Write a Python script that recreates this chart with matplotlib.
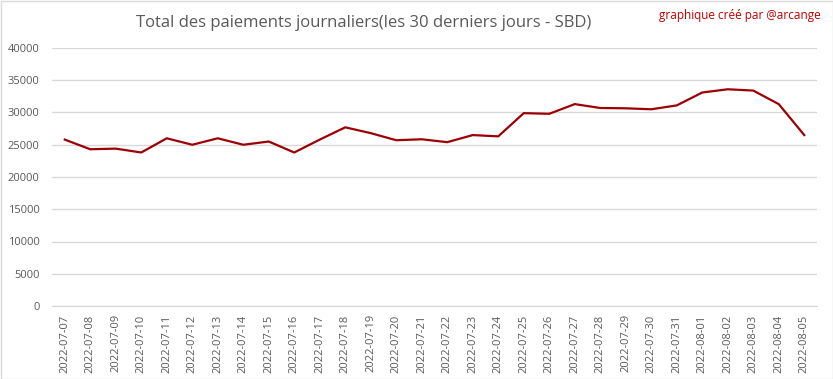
import matplotlib
matplotlib.use("Agg")
import matplotlib.pyplot as plt
from matplotlib.patches import Rectangle

dates = ["2022-07-07", "2022-07-08", "2022-07-09", "2022-07-10", "2022-07-11",
         "2022-07-12", "2022-07-13", "2022-07-14", "2022-07-15", "2022-07-16",
         "2022-07-17", "2022-07-18", "2022-07-19", "2022-07-20", "2022-07-21",
         "2022-07-22", "2022-07-23", "2022-07-24", "2022-07-25", "2022-07-26",
         "2022-07-27", "2022-07-28", "2022-07-29", "2022-07-30", "2022-07-31",
         "2022-08-01", "2022-08-02", "2022-08-03", "2022-08-04", "2022-08-05"]
payments = [25800, 24300, 24400, 23800, 26000, 25000, 26000, 25000, 25500, 23800,
            25800, 27700, 26800, 25700, 25850, 25400, 26500, 26300, 29900, 29800,
            31300, 30700, 30650, 30500, 31100, 33100, 33600, 33400, 31300, 26500]
yticks = [0, 5000, 10000, 15000, 20000, 25000, 30000, 35000, 40000]

title = "Total des paiements journaliers(les 30 derniers jours - SBD)"
credit = "graphique créé par @arcange"

plt.rcParams['font.family'] = ['Open Sans', 'DejaVu Sans']

W, H = 833, 379
fig = plt.figure(figsize=(W / 100, H / 100), dpi=100)
ax = fig.add_axes([52 / W, 1 - 306 / H, (817 - 52) / W, (306 - 48) / H])

x = list(range(len(dates)))
ax.plot(x, payments, color="#9C0006", linewidth=1.6, solid_joinstyle="round")

ax.set_ylim(0, 40000)
ax.set_xlim(-0.5, len(dates) - 0.5)
ax.set_yticks(yticks)
ax.set_yticklabels([str(v) for v in yticks])
ax.set_xticks(x)
ax.set_xticklabels(dates, rotation=90)
ax.grid(axis="y", color="#D9D9D9", linewidth=1)
ax.set_axisbelow(True)
for s in ["top", "right", "left"]:
    ax.spines[s].set_visible(False)
ax.spines["bottom"].set_color("#D9D9D9")
ax.tick_params(axis="y", length=0, labelsize=8, colors="#595959", pad=9)
ax.tick_params(axis="x", length=0, labelsize=8, colors="#595959", pad=6)

fig.text(0.436, 1 - 23 / H, title, ha="center", va="center", fontsize=12, color="#595959")
fig.text(1 - 12 / W, 1 - 15 / H, credit, ha="right", va="center", fontsize=8.5, color="#C00000")

fig.patches.append(Rectangle((0.5 / W, 0.5 / H), 1 - 1 / W, 1 - 1 / H, transform=fig.transFigure,
                             fill=False, edgecolor="#D9D9D9", linewidth=1))

fig.savefig("out.png", dpi=100)
